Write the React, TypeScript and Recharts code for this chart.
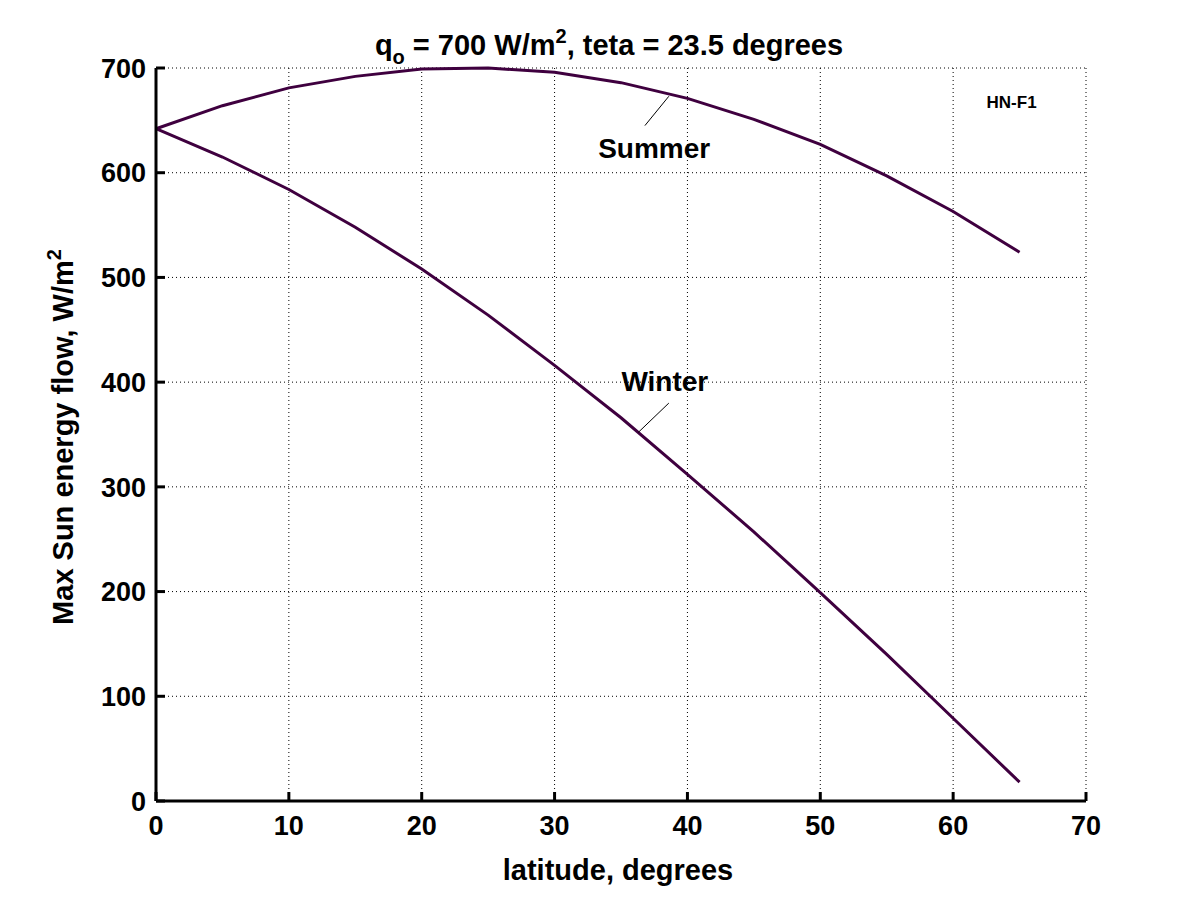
import React from "react";
import {
  LineChart, Line, XAxis, YAxis, CartesianGrid, ReferenceLine, ReferenceDot,
} from "recharts";

// latitude, degrees
const latitude = [0, 5, 10, 15, 20, 25, 30, 35, 40, 45, 50, 55, 60, 65];
// W/m^2
const summer = [642, 664, 681, 692, 699, 700, 696, 686, 671, 651, 627, 597, 563, 524];
const winter = [642, 615, 584, 548, 508, 464, 416, 366, 312, 257, 199, 140, 79, 18];

const xTicks = [0, 10, 20, 30, 40, 50, 60, 70];
const yTicks = [0, 100, 200, 300, 400, 500, 600, 700];

const data = latitude.map((lat, i) => ({ lat, summer: summer[i], winter: winter[i] }));

const FONT = "Liberation Sans, Arial, Helvetica, sans-serif";
const LINE = "#3f003f";
const TICK_LEN = 9;
const X_GAP = 34; // axis line -> label baseline
const Y_GAP = 10; // axis line -> label right edge

// MATLAB style: tick marks point into the plot box
const BottomTick = ({ x, y, payload }: any) => (
  <g>
    <line x1={x} y1={y} x2={x} y2={y - TICK_LEN} stroke="#000" strokeWidth={3} />
    <text x={x} y={y + X_GAP} textAnchor="middle" fontSize={27} fontWeight={700} fontFamily={FONT} fill="#000">
      {payload.value}
    </text>
  </g>
);

const LeftTick = ({ x, y, payload }: any) => (
  <g>
    <line x1={x + Y_GAP} y1={y} x2={x + Y_GAP + TICK_LEN} y2={y} stroke="#000" strokeWidth={3} />
    <text x={x} y={y} dy="0.36em" textAnchor="end" fontSize={27} fontWeight={700} fontFamily={FONT} fill="#000">
      {payload.value}
    </text>
  </g>
);

const TopTick = ({ x, y }: any) => (
  <line x1={x} y1={y} x2={x} y2={y + TICK_LEN} stroke="#000" strokeWidth={3} />
);

const RightTick = ({ x, y }: any) => (
  <line x1={x} y1={y} x2={x - TICK_LEN} y2={y} stroke="#000" strokeWidth={3} />
);

const annot = { position: "center" as const, fontSize: 28, fontWeight: 700, fill: "#000", fontFamily: FONT };

export default function App() {
  return (
    <div style={{ position: "absolute", left: 0, top: 0, width: 1200, height: 900, background: "#fff" }}>
      <LineChart
        width={1200}
        height={900}
        data={data}
        margin={{ top: 68, right: 114, left: 0, bottom: 0 }}
        style={{ fontFamily: FONT }}
      >
        <CartesianGrid stroke="#000" strokeDasharray="1 3" strokeWidth={1} />
        <XAxis
          dataKey="lat" type="number" domain={[0, 70]} ticks={xTicks} height={99}
          axisLine={{ stroke: "#000", strokeWidth: 3 }} tickLine={false}
          tickSize={0} tickMargin={0} tick={BottomTick}
        />
        <XAxis
          xAxisId="top" orientation="top" dataKey="lat" type="number" domain={[0, 70]} ticks={xTicks} height={0}
          axisLine={{ stroke: "#000", strokeWidth: 3 }} tickLine={false}
          tickSize={0} tickMargin={0} tick={TopTick}
        />
        <YAxis
          type="number" domain={[0, 700]} ticks={yTicks} width={156}
          axisLine={{ stroke: "#000", strokeWidth: 3 }} tickLine={false}
          tickSize={0} tickMargin={Y_GAP} tick={LeftTick}
        />
        <YAxis
          yAxisId="right" orientation="right" type="number" domain={[0, 700]} ticks={yTicks} width={0}
          axisLine={{ stroke: "#000", strokeWidth: 3 }} tickLine={false}
          tickSize={0} tickMargin={0} tick={RightTick}
        />
        <Line dataKey="summer" stroke={LINE} strokeWidth={3} dot={false} isAnimationActive={false} />
        <Line dataKey="winter" stroke={LINE} strokeWidth={3} dot={false} isAnimationActive={false} />

        <ReferenceLine segment={[{ x: 36.8, y: 645 }, { x: 38.6, y: 673 }]} stroke="#000" strokeWidth={1} />
        <ReferenceLine segment={[{ x: 36.3, y: 352 }, { x: 38.6, y: 380 }]} stroke="#000" strokeWidth={1} />
        <ReferenceDot x={37.5} y={624} r={0} stroke="none" fill="none" label={{ value: "Summer", ...annot }} />
        <ReferenceDot x={38.3} y={401} r={0} stroke="none" fill="none" label={{ value: "Winter", ...annot }} />
        <ReferenceDot x={64.4} y={668} r={0} stroke="none" fill="none"
          label={{ ...annot, value: "HN-F1", fontSize: 17 }} />

        <text x={609} y={55} textAnchor="middle" fontSize={29} fontWeight={700} fontFamily={FONT} fill="#000">
          q<tspan fontSize={20} dy={9}>o</tspan>
          <tspan dy={-9}> = 700 W/m</tspan>
          <tspan fontSize={20} dy={-12}>2</tspan>
          <tspan dy={12}>, teta = 23.5 degrees</tspan>
        </text>
        <text x={618} y={880} textAnchor="middle" fontSize={29} fontWeight={700} fontFamily={FONT} fill="#000">
          latitude, degrees
        </text>
        <text
          x={0} y={0} transform="translate(73,437) rotate(-90)" textAnchor="middle"
          fontSize={29} fontWeight={700} fontFamily={FONT} fill="#000"
        >
          Max Sun energy flow, W/m<tspan fontSize={20} dy={-12}>2</tspan>
        </text>
      </LineChart>
    </div>
  );
}
